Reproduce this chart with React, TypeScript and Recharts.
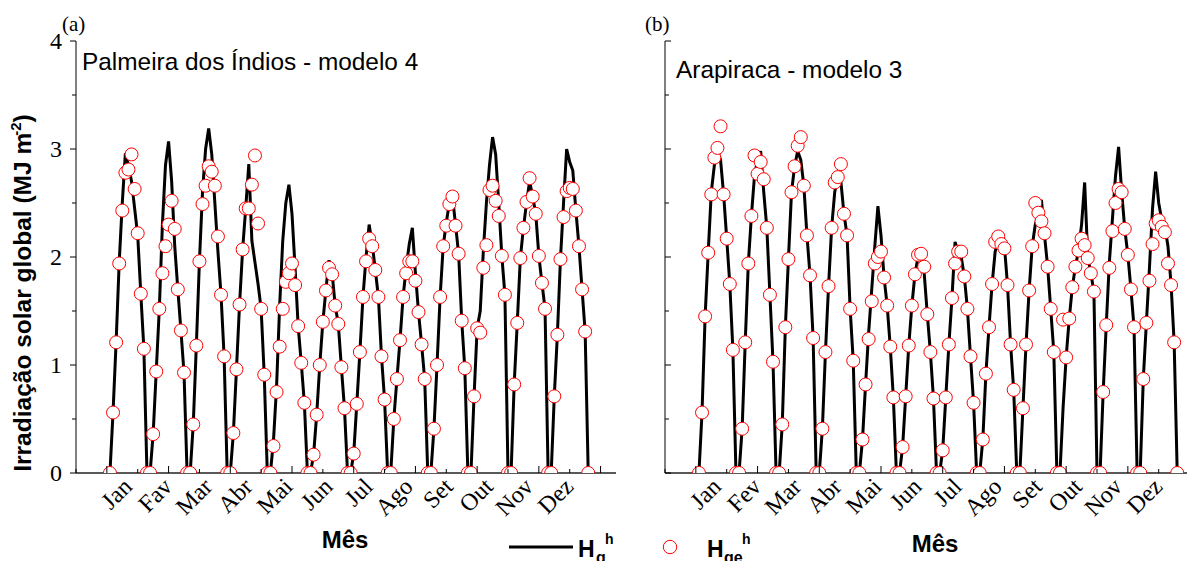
import React from 'react'
import { LineChart, Line, XAxis, YAxis } from 'recharts'

const monthsA = ['Jan', 'Fav', 'Mar', 'Abr', 'Mai', 'Jun', 'Jul', 'Ago', 'Set', 'Out', 'Nov', 'Dez']
const monthsB = ['Jan', 'Fev', 'Mar', 'Abr', 'Mai', 'Jun', 'Jul', 'Ago', 'Set', 'Out', 'Nov', 'Dez']

// typical day of each month, 13 hourly values (MJ m-2)
const hgPalmeira = [
  [0, 0.56, 1.21, 1.95, 2.5, 2.96, 2.85, 2.7, 2.45, 2.2, 1.66, 1.15, 0],
  [0, 0.36, 0.94, 1.52, 2.3, 2.85, 3.07, 2.7, 2.1, 1.7, 1.32, 0.93, 0],
  [0, 0.45, 1.18, 1.96, 2.6, 3.0, 3.19, 2.95, 2.5, 2.05, 1.65, 1.08, 0],
  [0, 0.37, 0.96, 1.56, 2.07, 2.45, 2.86, 2.15, 1.95, 1.75, 1.52, 0.91, 0],
  [0, 0.3, 0.8, 1.55, 2.15, 2.5, 2.67, 2.4, 1.9, 1.36, 1.02, 0.65, 0],
  [0, 0.17, 0.54, 1.0, 1.4, 1.7, 1.97, 1.85, 1.55, 1.38, 0.98, 0.6, 0],
  [0, 0.18, 0.64, 1.12, 1.63, 2.0, 2.3, 2.12, 1.88, 1.63, 1.08, 0.68, 0],
  [0, 0.5, 0.87, 1.23, 1.63, 1.9, 2.12, 2.27, 1.85, 1.49, 1.19, 0.87, 0],
  [0, 0.41, 1.0, 1.63, 2.1, 2.32, 2.5, 2.56, 2.3, 2.03, 1.41, 0.97, 0],
  [0, 0.71, 1.34, 1.5, 2.05, 2.5, 2.85, 3.11, 2.95, 2.5, 2.01, 1.65, 0],
  [0, 0.82, 1.39, 1.99, 2.27, 2.5, 2.7, 2.56, 2.4, 2.01, 1.76, 1.52, 0],
  [0, 0.71, 1.28, 1.98, 2.5, 3.0, 2.88, 2.8, 2.43, 2.1, 1.7, 1.31, 0],
]

const hgePalmeira = [
  [0, 0.56, 1.21, 1.94, 2.43, 2.78, 2.81, 2.95, 2.63, 2.22, 1.66, 1.15, 0],
  [0, 0.36, 0.94, 1.52, 1.85, 2.1, 2.3, 2.52, 2.26, 1.7, 1.32, 0.93, 0],
  [0, 0.45, 1.18, 1.96, 2.49, 2.66, 2.84, 2.79, 2.66, 2.19, 1.65, 1.08, 0],
  [0, 0.37, 0.96, 1.56, 2.07, 2.45, 2.45, 2.67, 2.94, 2.31, 1.52, 0.91, 0],
  [0, 0.25, 0.75, 1.17, 1.52, 1.77, 1.85, 1.94, 1.74, 1.36, 1.02, 0.65, 0],
  [0, 0.17, 0.54, 1.0, 1.4, 1.69, 1.9, 1.84, 1.55, 1.38, 0.98, 0.6, 0],
  [0, 0.18, 0.64, 1.12, 1.63, 1.96, 2.17, 2.1, 1.88, 1.63, 1.08, 0.68, 0],
  [0, 0.5, 0.87, 1.23, 1.63, 1.85, 1.96, 1.96, 1.78, 1.49, 1.19, 0.87, 0],
  [0, 0.41, 1.0, 1.63, 2.1, 2.29, 2.49, 2.56, 2.29, 2.03, 1.41, 0.97, 0],
  [0, 0.71, 1.34, 1.3, 1.9, 2.11, 2.62, 2.66, 2.52, 2.38, 2.01, 1.65, 0],
  [0, 0.82, 1.39, 1.99, 2.27, 2.51, 2.73, 2.56, 2.4, 2.01, 1.76, 1.52, 0],
  [0, 0.71, 1.28, 1.98, 2.37, 2.61, 2.64, 2.63, 2.43, 2.1, 1.7, 1.31, 0],
]

const hgArapiraca = [
  [0, 0.56, 1.45, 2.04, 2.6, 2.85, 2.98, 2.9, 2.58, 2.17, 1.75, 1.14, 0],
  [0, 0.41, 1.21, 1.94, 2.38, 2.75, 2.9, 2.98, 2.6, 2.27, 1.65, 1.03, 0],
  [0, 0.45, 1.35, 1.98, 2.6, 2.84, 2.98, 2.9, 2.66, 2.2, 1.83, 1.25, 0],
  [0, 0.41, 1.12, 1.73, 2.27, 2.6, 2.75, 2.7, 2.4, 2.2, 1.52, 1.04, 0],
  [0, 0.31, 0.82, 1.3, 1.7, 2.1, 2.47, 2.2, 1.81, 1.55, 1.17, 0.7, 0],
  [0, 0.24, 0.71, 1.18, 1.55, 1.84, 2.0, 2.0, 1.85, 1.47, 1.12, 0.69, 0],
  [0, 0.21, 0.7, 1.19, 1.62, 2.14, 2.05, 2.0, 1.82, 1.52, 1.08, 0.65, 0],
  [0, 0.31, 0.92, 1.35, 1.75, 2.05, 2.15, 2.2, 2.1, 1.74, 1.19, 0.77, 0],
  [0, 0.6, 1.19, 1.69, 2.1, 2.3, 2.4, 2.53, 2.2, 1.91, 1.52, 1.12, 0],
  [0, 0.6, 1.07, 1.43, 1.72, 1.91, 2.06, 2.3, 2.69, 2.0, 1.85, 1.68, 0],
  [0, 0.75, 1.37, 1.95, 2.35, 2.75, 3.02, 2.6, 2.26, 2.02, 1.7, 1.35, 0],
  [0, 0.87, 1.39, 1.9, 2.45, 2.79, 2.5, 2.34, 2.28, 2.1, 1.75, 1.21, 0],
]

const hgeArapiraca = [
  [0, 0.56, 1.45, 2.04, 2.58, 2.92, 3.01, 3.21, 2.58, 2.17, 1.75, 1.14, 0],
  [0, 0.41, 1.21, 1.94, 2.38, 2.94, 2.77, 2.88, 2.72, 2.27, 1.65, 1.03, 0],
  [0, 0.45, 1.35, 1.98, 2.6, 2.84, 3.03, 3.11, 2.66, 2.2, 1.83, 1.25, 0],
  [0, 0.41, 1.12, 1.73, 2.27, 2.69, 2.74, 2.86, 2.4, 2.2, 1.52, 1.04, 0],
  [0, 0.31, 0.82, 1.24, 1.59, 1.94, 2.0, 2.05, 1.81, 1.55, 1.17, 0.7, 0],
  [0, 0.24, 0.71, 1.18, 1.55, 1.84, 2.02, 2.03, 1.91, 1.47, 1.12, 0.69, 0],
  [0, 0.21, 0.7, 1.19, 1.62, 1.94, 2.05, 2.05, 1.82, 1.52, 1.08, 0.65, 0],
  [0, 0.31, 0.92, 1.35, 1.75, 2.14, 2.19, 2.12, 2.08, 1.74, 1.19, 0.77, 0],
  [0, 0.6, 1.19, 1.69, 2.1, 2.5, 2.41, 2.33, 2.22, 1.91, 1.52, 1.12, 0],
  [0, 1.42, 1.07, 1.43, 1.72, 1.91, 2.06, 2.17, 2.11, 1.99, 1.85, 1.68, 0],
  [0, 0.75, 1.37, 1.9, 2.24, 2.5, 2.63, 2.6, 2.26, 2.02, 1.7, 1.35, 0],
  [0, 0.87, 1.39, 1.78, 2.12, 2.31, 2.34, 2.28, 2.23, 1.94, 1.74, 1.21, 0],
]

const yTicks = [0, 0.5, 1, 1.5, 2, 2.5, 3, 3.5, 4]
const xTicks = [0, 10, 20, 30, 40, 50, 60, 70, 80, 90, 100, 110, 120, 130, 140, 150, 160, 170]

// each day = 13 hourly points, first point at index 11
const HOURS = 13
const START = 11
const monthCenters = monthsA.map((_, m) => START + m * HOURS + 6)
const allXTicks = Array.from(new Set([...xTicks, ...monthCenters])).sort((a, b) => a - b)

function buildRows(hg: number[][], hge: number[][]) {
  const rows: { x: number; hg: number; hge: number }[] = []
  hg.forEach((day, m) => {
    day.forEach((v, k) => {
      rows.push({ x: START + m * HOURS + k, hg: v, hge: hge[m][k] })
    })
  })
  return rows
}

const rowsA = buildRows(hgPalmeira, hgePalmeira)
const rowsB = buildRows(hgArapiraca, hgeArapiraca)

const serif = '"Liberation Serif", "DejaVu Serif", serif'
const sans = '"Liberation Sans", Arial, sans-serif'

const bottomTick = (labels: string[]) => (props: any) => {
  const { x, y, payload } = props
  const v = payload.value
  const mi = monthCenters.indexOf(v)
  const tx = x + 5
  const ty = y + 15
  return (
    <g>
      {xTicks.includes(v) && (
        <line x1={x} x2={x} y1={y} y2={y - ((v / 10) % 2 === 1 ? 7 : 4)} stroke="#000" strokeWidth={1} />
      )}
      {mi >= 0 && (
        <text x={tx} y={ty} transform={`rotate(-45 ${tx} ${ty})`} textAnchor="end" fontFamily={serif} fontSize={24} fill="#000">
          {labels[mi]}
        </text>
      )}
    </g>
  )
}

const topTick = (props: any) => {
  const { x, y, payload } = props
  const len = (payload.value / 10) % 2 === 1 ? 7 : 4
  return <line x1={x} x2={x} y1={y} y2={y + len} stroke="#000" strokeWidth={1} />
}

const leftTick = (withLabels: boolean, outward: boolean) => (props: any) => {
  const { x, y, payload } = props
  const v = payload.value
  const major = Number.isInteger(v)
  const len = major ? 6 : 4
  return (
    <g>
      <line x1={x} x2={outward ? x - len : x + len} y1={y} y2={y} stroke="#000" strokeWidth={1} />
      {withLabels && major && (
        <text x={x - 14} y={y} dy="0.35em" textAnchor="end" fontFamily={serif} fontSize={24} fill="#000">
          {v}
        </text>
      )}
    </g>
  )
}

const rightTick = (props: any) => {
  const { x, y, payload } = props
  const len = Number.isInteger(payload.value) ? 6 : 4
  return <line x1={x} x2={x - len} y1={y} y2={y} stroke="#000" strokeWidth={1} />
}

function Panel({ data, labels, width, margin, labelsOnY, outwardY, rightAxis }: any) {
  return (
    <LineChart width={width} height={569} data={data} margin={margin}>
      <XAxis
        dataKey="x"
        type="number"
        domain={[0, 175]}
        allowDataOverflow
        ticks={allXTicks}
        interval={0}
        tickSize={0}
        tickMargin={0}
        tickLine={false}
        height={30}
        axisLine={{ stroke: '#222', strokeWidth: 1.5 }}
        tick={bottomTick(labels)}
      />
      <XAxis
        xAxisId="top"
        orientation="top"
        type="number"
        domain={[0, 175]}
        allowDataOverflow
        ticks={xTicks}
        interval={0}
        tickSize={0}
        tickMargin={0}
        tickLine={false}
        height={0}
        axisLine={{ stroke: '#000', strokeWidth: 1 }}
        tick={topTick}
      />
      <YAxis
        type="number"
        domain={[0, 4]}
        allowDataOverflow
        ticks={yTicks}
        interval={0}
        tickSize={0}
        tickMargin={0}
        tickLine={false}
        width={40}
        axisLine={{ stroke: '#000', strokeWidth: 1 }}
        tick={leftTick(labelsOnY, outwardY)}
      />
      {rightAxis && (
        <YAxis
          yAxisId="right"
          orientation="right"
          type="number"
          domain={[0, 4]}
          allowDataOverflow
          ticks={yTicks}
          interval={0}
          tickSize={0}
          tickMargin={0}
          tickLine={false}
          width={0}
          axisLine={{ stroke: '#000', strokeWidth: 1 }}
          tick={rightTick}
        />
      )}
      <Line
        type="linear"
        dataKey="hg"
        stroke="#000"
        strokeWidth={3}
        dot={false}
        activeDot={false}
        isAnimationActive={false}
      />
      <Line
        type="linear"
        dataKey="hge"
        stroke="none"
        strokeWidth={0}
        dot={{ r: 6.5, stroke: '#ff0000', strokeWidth: 1, fill: '#fff' }}
        activeDot={false}
        isAnimationActive={false}
      />
    </LineChart>
  )
}

export default function App() {
  return (
    <div style={{ position: 'relative', width: 1195, height: 569, margin: -8, overflow: 'hidden', background: '#fff' }}>
      <div style={{ position: 'absolute', left: 0, top: 0 }}>
        <Panel
          data={rowsA}
          labels={monthsA}
          width={640}
          margin={{ top: 41, right: 24, bottom: 66, left: 36 }}
          labelsOnY
          outwardY
          rightAxis
        />
      </div>
      <div style={{ position: 'absolute', left: 625, top: 0 }}>
        <Panel
          data={rowsB}
          labels={monthsB}
          width={600}
          margin={{ top: 41, right: 20, bottom: 66, left: 0 }}
          labelsOnY={false}
          outwardY={false}
          rightAxis={false}
        />
      </div>
      <svg width={1195} height={569} style={{ position: 'absolute', left: 0, top: 0, pointerEvents: 'none' }}>
        <text x={62} y={31} fontFamily={serif} fontSize={21} fill="#000">(a)</text>
        <text x={645} y={31} fontFamily={serif} fontSize={21} fill="#000">(b)</text>
        <text x={82} y={70} fontFamily={sans} fontSize={24.4} fill="#000">Palmeira dos Índios - modelo 4</text>
        <text x={676} y={78} fontFamily={sans} fontSize={24.4} fill="#000">Arapiraca - modelo 3</text>
        <text transform="translate(31, 293) rotate(-90)" textAnchor="middle" fontFamily={sans} fontWeight="bold" fontSize={24.5} fill="#000">
          Irradiação solar global (MJ m<tspan dx={-3} dy={-10} fontSize={15}>-2</tspan><tspan dy={10}>)</tspan>
        </text>
        <text x={345} y={548} textAnchor="middle" fontFamily={sans} fontWeight="bold" fontSize={24} fill="#000">Mês</text>
        <text x={935} y={552} textAnchor="middle" fontFamily={sans} fontWeight="bold" fontSize={24} fill="#000">Mês</text>
        <line x1={509} x2={573} y1={547} y2={547} stroke="#000" strokeWidth={3} />
        <text x={578} y={557} fontFamily={sans} fontWeight="bold" fontSize={23} fill="#000">H</text>
        <text x={596} y={563} fontFamily={sans} fontWeight="bold" fontSize={16} fill="#000">g</text>
        <text x={605} y={544} fontFamily={sans} fontWeight="bold" fontSize={14} fill="#000">h</text>
        <circle cx={670} cy={547} r={6.7} stroke="#ff0000" strokeWidth={1} fill="#fff" />
        <text x={707} y={557} fontFamily={sans} fontWeight="bold" fontSize={23} fill="#000">H</text>
        <text x={724} y={563} fontFamily={sans} fontWeight="bold" fontSize={16} fill="#000">ge</text>
        <text x={742} y={544} fontFamily={sans} fontWeight="bold" fontSize={14} fill="#000">h</text>
      </svg>
    </div>
  )
}
